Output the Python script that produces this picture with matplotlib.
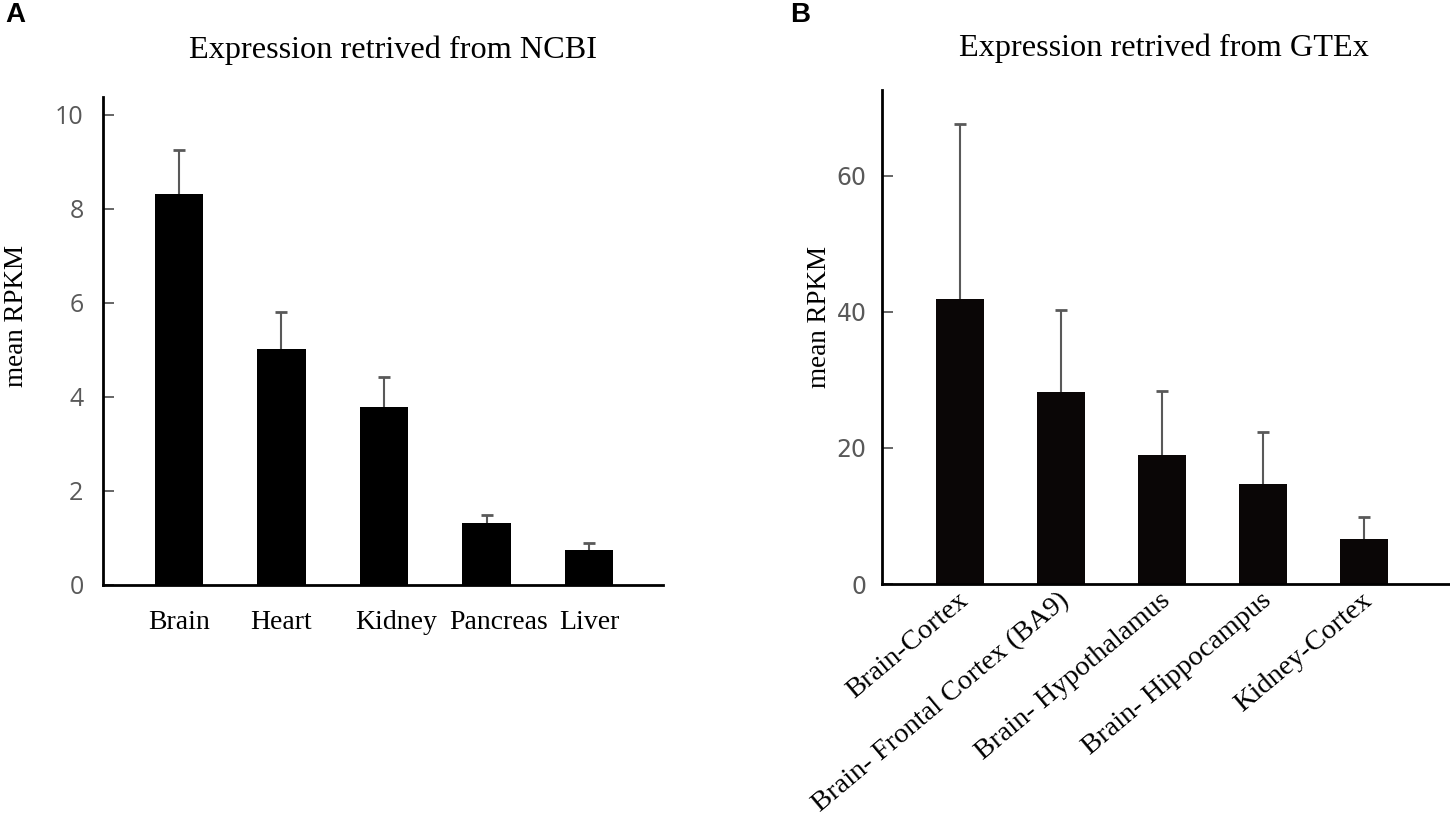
import matplotlib
matplotlib.use("Agg")
import matplotlib.pyplot as plt
import matplotlib.transforms as mtransforms
import numpy as np

# panel A - NCBI
ncbi_tissues = ['Brain', 'Heart', 'Kidney', 'Pancreas', 'Liver']
ncbi_mean = [8.32, 5.02, 3.79, 1.32, 0.75]
ncbi_err = [0.93, 0.79, 0.63, 0.17, 0.14]

# panel B - GTEx
gtex_tissues = ['Brain-Cortex', 'Brain- Frontal Cortex (BA9)', 'Brain- Hypothalamus',
                'Brain- Hippocampus', 'Kidney-Cortex']
gtex_mean = [41.9, 28.2, 18.9, 14.7, 6.6]
gtex_err = [25.7, 12.0, 9.4, 7.6, 3.2]

serif = ['Liberation Serif', 'DejaVu Serif']
grey = '#595959'

W, H = 1450, 822
fig = plt.figure(figsize=(W / 100, H / 100), dpi=100)


def px_axes(x0, y0, x1, y1):
    # x0,y0 = top-left pixel, x1,y1 = bottom-right pixel
    return fig.add_axes([x0 / W, 1 - y1 / H, (x1 - x0) / W, (y1 - y0) / H])


def style(ax, tickfont, ticksize, pad):
    for s in ['top', 'right']:
        ax.spines[s].set_visible(False)
    ax.spines['left'].set_linewidth(2)
    ax.spines['bottom'].set_linewidth(2)
    ax.tick_params(axis='y', direction='in', length=8, width=1.3, color=grey,
                   labelcolor=grey, labelsize=ticksize, pad=pad)
    ax.tick_params(axis='x', length=0)
    for lab in ax.get_yticklabels():
        lab.set_fontfamily(tickfont)


def bars(ax, means, errs, color, width):
    x = np.arange(len(means))
    ax.bar(x, means, width=width, color=color)
    _, caps, _ = ax.errorbar(x, means, yerr=[np.zeros(len(x)), errs], fmt='none',
                             ecolor=grey, elinewidth=1.5, capsize=4, capthick=2)
    caps[0].set_visible(False)  # only upper caps
    return x


# ---------------- A ----------------
axA = px_axes(103, 97, 663, 585)
x = bars(axA, ncbi_mean, ncbi_err, 'black', 0.47)
axA.set_xlim(-0.74, 4.72)
axA.set_ylim(0, 10.38)
axA.set_yticks([0, 2, 4, 6, 8, 10])
axA.set_xticks(x)
axA.set_xticklabels(ncbi_tissues, fontfamily=serif, fontsize=20)
axA.tick_params(axis='x', pad=18)
style(axA, ['Open Sans', 'DejaVu Sans'], 18, 14)
# the labels under Kidney and Pancreas sit a little to the right
label_nudge_px = [0, 0, 12, 12, 0]
for lab, dx in zip(axA.get_xticklabels(), label_nudge_px):
    lab.set_transform(lab.get_transform() +
                      mtransforms.ScaledTranslation(dx / 100, 0, fig.dpi_scale_trans))

# ---------------- B ----------------
axB = px_axes(882, 90, 1450, 584)
x = bars(axB, gtex_mean, gtex_err, '#0a0606', 0.475)
axB.set_xlim(-0.77, 4.85)
axB.set_ylim(0, 72.6)
axB.set_yticks([0, 20, 40, 60])
axB.set_xticks(x - 0.03)
axB.set_xticklabels(gtex_tissues, fontfamily=serif, fontsize=20.5, rotation=40,
                    ha='right', va='top', rotation_mode='anchor')
axB.tick_params(axis='x', pad=3)
style(axB, ['Liberation Sans Narrow', 'DejaVu Sans'], 17, 11)

# titles, y labels, panel letters
fig.text(393 / W, 1 - 50 / H, 'Expression retrived from NCBI', ha='center', va='center',
         fontfamily=serif, fontsize=23.2)
fig.text(1164 / W, 1 - 48 / H, 'Expression retrived from GTEx', ha='center', va='center',
         fontfamily=serif, fontsize=23.2)
fig.text(17 / W, 1 - 316 / H, 'mean RPKM', rotation=90, ha='center', va='center',
         fontfamily=serif, fontsize=19.5)
fig.text(819 / W, 1 - 317 / H, 'mean RPKM', rotation=90, ha='center', va='center',
         fontfamily=serif, fontsize=19.5)
fig.text(15 / W, 1 - 15 / H, 'A', ha='center', va='center', fontweight='bold',
         fontfamily=['Liberation Sans', 'DejaVu Sans'], fontsize=20)
fig.text(800 / W, 1 - 15 / H, 'B', ha='center', va='center', fontweight='bold',
         fontfamily=['Liberation Sans', 'DejaVu Sans'], fontsize=20)

fig.savefig('out.png', dpi=100)
